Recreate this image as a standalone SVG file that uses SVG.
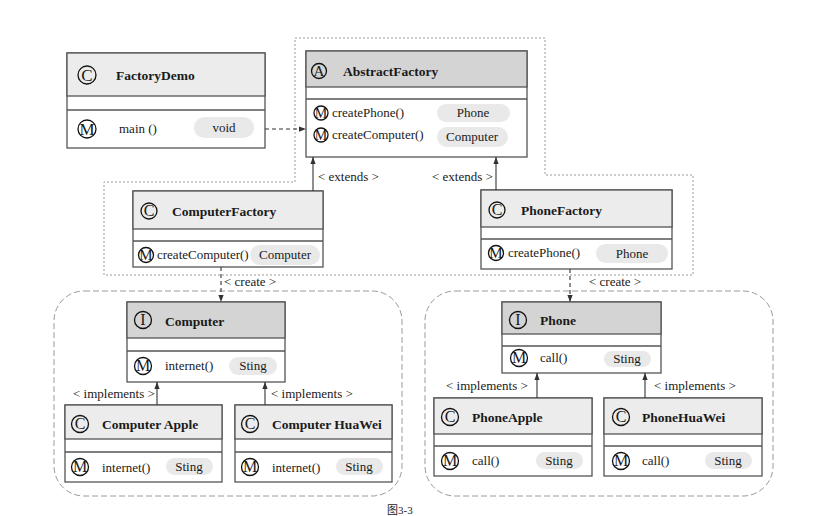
<svg xmlns="http://www.w3.org/2000/svg" width="813" height="516" viewBox="0 0 813 516">
<defs>
<marker id="ah" viewBox="0 0 8 8" refX="8" refY="4" markerWidth="7" markerHeight="7" orient="auto" markerUnits="userSpaceOnUse">
<path d="M0,1 L8,4 L0,7 Z" fill="#333"/>
</marker>
<style>
text{font-family:"Liberation Serif","Times New Roman",serif;fill:#1a1a1a}
.box{fill:#fff;stroke:#555;stroke-width:1.3}
.hd{fill:#ececec;stroke:#555;stroke-width:1.3}
.hdd{fill:#d4d4d4;stroke:#555;stroke-width:1.3}
.sep{stroke:#555;stroke-width:1.3}
.title{font-size:13.5px;font-weight:bold}
.mem{font-size:13px}
.pill{fill:#e9e9e9}
.pt{font-size:13px;text-anchor:middle}
.ic{fill:none;stroke:#111;stroke-width:1.3}
.il{text-anchor:middle}
.s17{font-size:17px}
.s16{font-size:16px}
.s15{font-size:15px}
.s14{font-size:14px}
.lbl{font-size:13px}
.frame{fill:none;stroke:#9a9a9a;stroke-width:1;stroke-dasharray:2,2}
.grp{fill:none;stroke:#9a9a9a;stroke-width:1;stroke-dasharray:6,3}
.c{fill:none;stroke:#333;stroke-width:1.1;marker-end:url(#ah)}
.d{stroke-dasharray:4,3}
</style>
</defs>
<rect width="813" height="516" fill="#fff"/>

<g id="frames">
<path class="frame" d="M295,38 L545,38 L545,175 L693,175 L693,275 L104,275 L104,182 L295,182 Z"/>
<rect class="grp" x="54" y="291" width="348" height="205" rx="30"/>
<rect class="grp" x="425" y="291" width="348" height="205" rx="30"/>
</g>

<g id="FactoryDemo">
<rect class="box" x="67" y="53" width="198" height="95"/>
<rect class="hd" x="67" y="53" width="198" height="43"/>
<line class="sep" x1="67" y1="110" x2="265" y2="110"/>
<circle class="ic" cx="87" cy="75" r="9"/><text class="il s17" x="87" y="80.6">C</text>
<text class="title" x="116" y="80">FactoryDemo</text>
<circle class="ic" cx="87" cy="129" r="9"/><text class="il s17" x="87" y="134.6">M</text>
<text class="mem" x="119" y="133">main ()</text>
<rect class="pill" x="194" y="117" width="60" height="21" rx="10.5"/>
<text class="pt" x="224" y="132">void</text>
</g>

<g id="AbstractFactory">
<rect class="box" x="306" y="51" width="221" height="106"/>
<rect class="hdd" x="306" y="51" width="221" height="36"/>
<line class="sep" x1="306" y1="99" x2="527" y2="99"/>
<circle class="ic" cx="319" cy="71" r="7.5"/><text class="il s15" x="319" y="76">A</text>
<text class="title" x="343" y="76">AbstractFactory</text>
<circle class="ic" cx="321" cy="113" r="7"/><text class="il s14" x="321" y="117.6">M</text>
<text class="mem" x="332" y="117">createPhone()</text>
<circle class="ic" cx="321" cy="135" r="7"/><text class="il s14" x="321" y="139.6">M</text>
<text class="mem" x="332" y="139">createComputer()</text>
<rect class="pill" x="437" y="104" width="73" height="18" rx="9"/>
<text class="pt" x="473" y="117">Phone</text>
<rect class="pill" x="437" y="127" width="71" height="20" rx="10"/>
<text class="pt" x="472" y="141">Computer</text>
</g>

<g id="ComputerFactory">
<rect class="box" x="133" y="191" width="190" height="76"/>
<rect class="hd" x="133" y="191" width="190" height="38"/>
<line class="sep" x1="133" y1="241" x2="323" y2="241"/>
<circle class="ic" cx="149" cy="211" r="8"/><text class="il s16" x="149" y="216.3">C</text>
<text class="title" x="172" y="216">ComputerFactory</text>
<circle class="ic" cx="146" cy="255" r="7.5"/><text class="il s15" x="146" y="260">M</text>
<text class="mem" x="157" y="259">createComputer()</text>
<rect class="pill" x="250" y="245" width="70" height="20" rx="10"/>
<text class="pt" x="285" y="259">Computer</text>
</g>

<g id="PhoneFactory">
<rect class="box" x="481" y="190" width="191" height="79"/>
<rect class="hd" x="481" y="190" width="191" height="37"/>
<line class="sep" x1="481" y1="239" x2="672" y2="239"/>
<circle class="ic" cx="497" cy="210" r="8"/><text class="il s16" x="497" y="215.3">C</text>
<text class="title" x="521" y="215">PhoneFactory</text>
<circle class="ic" cx="496" cy="253" r="7.5"/><text class="il s15" x="496" y="258">M</text>
<text class="mem" x="508" y="257">createPhone()</text>
<rect class="pill" x="596" y="244" width="72" height="19" rx="9.5"/>
<text class="pt" x="632" y="258">Phone</text>
</g>

<g id="Computer">
<rect class="box" x="127" y="302" width="158" height="80"/>
<rect class="hdd" x="127" y="302" width="158" height="36"/>
<line class="sep" x1="127" y1="351" x2="285" y2="351"/>
<circle class="ic" cx="143" cy="320" r="8.5"/><text class="il s16" x="143" y="325.3">I</text>
<text class="title" x="165" y="326">Computer</text>
<circle class="ic" cx="143" cy="366" r="8.5"/><text class="il s16" x="143" y="371.3">M</text>
<text class="mem" x="165" y="370">internet()</text>
<rect class="pill" x="229" y="357" width="48" height="18" rx="9"/>
<text class="pt" x="253" y="370">Sting</text>
</g>

<g id="ComputerApple">
<rect class="box" x="65" y="405" width="157" height="77"/>
<rect class="hd" x="65" y="405" width="157" height="34"/>
<line class="sep" x1="65" y1="452" x2="222" y2="452"/>
<circle class="ic" cx="80" cy="424" r="8.5"/><text class="il s16" x="80" y="429.3">C</text>
<text class="title" x="102" y="429">Computer Apple</text>
<circle class="ic" cx="80" cy="467" r="8.5"/><text class="il s16" x="80" y="472.3">M</text>
<text class="mem" x="102" y="472">internet()</text>
<rect class="pill" x="166" y="458" width="47" height="17" rx="8.5"/>
<text class="pt" x="189" y="471">Sting</text>
</g>

<g id="ComputerHuaWei">
<rect class="box" x="235" y="405" width="157" height="77"/>
<rect class="hd" x="235" y="405" width="157" height="34"/>
<line class="sep" x1="235" y1="452" x2="392" y2="452"/>
<circle class="ic" cx="250" cy="424" r="8.5"/><text class="il s16" x="250" y="429.3">C</text>
<text class="title" x="272" y="429">Computer HuaWei</text>
<circle class="ic" cx="250" cy="467" r="8.5"/><text class="il s16" x="250" y="472.3">M</text>
<text class="mem" x="272" y="472">internet()</text>
<rect class="pill" x="336" y="458" width="47" height="17" rx="8.5"/>
<text class="pt" x="359" y="471">Sting</text>
</g>

<g id="Phone">
<rect class="box" x="502" y="302" width="159" height="71"/>
<rect class="hdd" x="502" y="302" width="159" height="32"/>
<line class="sep" x1="502" y1="346" x2="661" y2="346"/>
<circle class="ic" cx="518" cy="320" r="8.5"/><text class="il s16" x="518" y="325.3">I</text>
<text class="title" x="540" y="325">Phone</text>
<circle class="ic" cx="519" cy="358" r="8.5"/><text class="il s16" x="519" y="363.3">M</text>
<text class="mem" x="540" y="362">call()</text>
<rect class="pill" x="604" y="351" width="47" height="16" rx="8"/>
<text class="pt" x="627" y="363">Sting</text>
</g>

<g id="PhoneApple">
<rect class="box" x="434" y="398" width="158" height="78"/>
<rect class="hd" x="434" y="398" width="158" height="36"/>
<line class="sep" x1="434" y1="446" x2="592" y2="446"/>
<circle class="ic" cx="450" cy="417" r="8.5"/><text class="il s16" x="450" y="422.3">C</text>
<text class="title" x="472" y="422">PhoneApple</text>
<circle class="ic" cx="450" cy="461" r="8.5"/><text class="il s16" x="450" y="466.3">M</text>
<text class="mem" x="472" y="465">call()</text>
<rect class="pill" x="536" y="452" width="47" height="17" rx="8.5"/>
<text class="pt" x="559" y="465">Sting</text>
</g>

<g id="PhoneHuaWei">
<rect class="box" x="604" y="398" width="158" height="78"/>
<rect class="hd" x="604" y="398" width="158" height="36"/>
<line class="sep" x1="604" y1="446" x2="762" y2="446"/>
<circle class="ic" cx="621" cy="417" r="8.5"/><text class="il s16" x="621" y="422.3">C</text>
<text class="title" x="642" y="422">PhoneHuaWei</text>
<circle class="ic" cx="621" cy="461" r="8.5"/><text class="il s16" x="621" y="466.3">M</text>
<text class="mem" x="642" y="465">call()</text>
<rect class="pill" x="705" y="452" width="47" height="17" rx="8.5"/>
<text class="pt" x="728" y="465">Sting</text>
</g>

<g id="connectors">
<line class="c d" x1="265" y1="129" x2="306" y2="129"/>
<line class="c" x1="313" y1="191" x2="313" y2="157"/>
<text class="lbl" x="318" y="181">&lt; extends &gt;</text>
<line class="c" x1="496" y1="190" x2="496" y2="157"/>
<text class="lbl" x="432" y="181">&lt; extends &gt;</text>
<line class="c d" x1="221" y1="267" x2="221" y2="302"/>
<text class="lbl" x="224" y="286">&lt;  create &gt;</text>
<line class="c d" x1="570" y1="269" x2="570" y2="302"/>
<text class="lbl" x="589" y="286">&lt;  create &gt;</text>
<line class="c" x1="157" y1="405" x2="157" y2="382"/>
<text class="lbl" x="73" y="398">&lt; implements &gt;</text>
<line class="c" x1="265" y1="405" x2="265" y2="382"/>
<text class="lbl" x="271" y="398">&lt; implements &gt;</text>
<line class="c" x1="537" y1="398" x2="537" y2="373"/>
<text class="lbl" x="446" y="390">&lt; implements &gt;</text>
<line class="c" x1="645" y1="398" x2="645" y2="373"/>
<text class="lbl" x="654" y="390">&lt; implements &gt;</text>
</g>

<text x="387" y="514" style="font-family:'Liberation Serif','Noto Sans CJK SC',serif;font-size:11px">图3-3</text>
</svg>
